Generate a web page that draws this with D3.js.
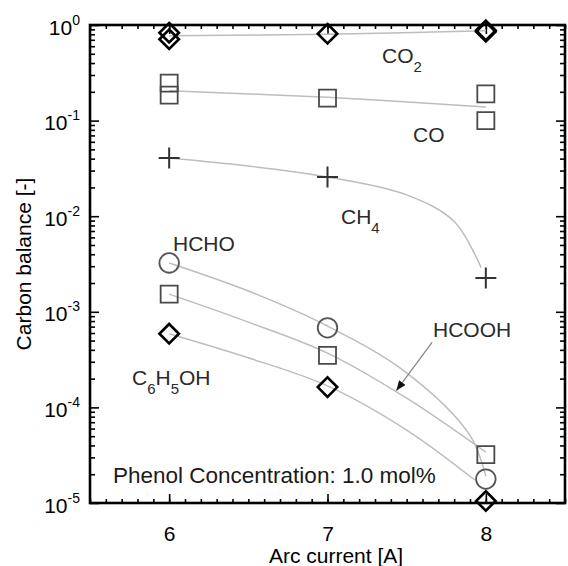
<!DOCTYPE html>
<html>
<head>
<meta charset="utf-8">
<script src="https://cdn.jsdelivr.net/npm/d3@7"></script>
<style>
body { margin: 0; background: #fff; }
text { font-family: "Liberation Sans", Arial, sans-serif; }
</style>
</head>
<body>
<script>
// arc current [A] and carbon balance [-]
var co2Current = [6, 6, 7, 8, 8];
var co2Value = [0.83, 0.71, 0.81, 0.85, 0.88];
var coCurrent = [6, 6, 7, 8, 8];
var coValue = [0.247, 0.185, 0.172, 0.19, 0.10];
var current = [6, 7, 8];
var ch4Value = [0.0406, 0.0257, 0.00226];
var hchoValue = [3.24e-3, 6.8e-4, 1.78e-5];
var hcoohValue = [1.53e-3, 3.5e-4, 3.2e-5];
var phenolValue = [5.9e-4, 1.63e-4, 1.05e-5];

// fitted curves (grey lines)
var fitCO2Current = [6, 7, 8];
var fitCO2 = [0.77, 0.80, 0.87];
var fitCOCurrent = [6, 7, 8];
var fitCO = [0.205, 0.175, 0.139];
var fitCH4Current = [6, 6.5, 7, 7.5, 7.8, 7.97];
var fitCH4 = [0.0406, 0.0335, 0.0257, 0.0167, 0.0088, 0.0029];
var fitHCHOCurrent = [6, 6.5, 7, 7.5, 7.9, 8];
var fitHCHO = [3.24e-3, 1.65e-3, 7.1e-4, 2.3e-4, 5.1e-5, 1.9e-5];
var fitHCOOHCurrent = [6, 6.5, 7, 7.5, 8];
var fitHCOOH = [1.53e-3, 7.8e-4, 3.7e-4, 1.25e-4, 3.4e-5];
var fitPhenolCurrent = [6, 6.5, 7, 7.5, 7.93];
var fitPhenol = [5.9e-4, 3.3e-4, 1.68e-4, 5.8e-5, 1.74e-5];

var xTicks = [6, 7, 8];
var yTicks = [1e-5, 1e-4, 1e-3, 1e-2, 1e-1, 1];
var yTickExp = ["-5", "-4", "-3", "-2", "-1", "0"];

var svg = d3.select("body")
    .append("svg")
    .attr("width", "568")
    .attr("height", "566")
    .style("display", "block");
var margin = {top: 25, right: 3, bottom: 63, left: 90};
var width = +svg.attr("width") - margin.left - margin.right;
var height = +svg.attr("height") - margin.top - margin.bottom;
var g = svg.append("g").attr("transform", "translate(" + margin.left + "," + margin.top + ")");

var x = d3.scaleLinear().domain([5.5, 8.5]).range([0, width]);
var y = d3.scaleLog().domain([1e-5, 1]).range([height, 0]);

var minorX = d3.range(55, 86).map(function(d) { return d / 10; });
var minorY = y.ticks().filter(function(d) { return yTicks.indexOf(d) < 0; });

function noDomain(sel) { sel.select(".domain").remove(); }

// minor ticks, all pointing inward
g.append("g").attr("transform", "translate(0," + height + ")")
    .call(d3.axisBottom(x).tickValues(minorX).tickSize(-4).tickFormat("")).call(noDomain);
g.append("g")
    .call(d3.axisTop(x).tickValues(minorX).tickSize(-4).tickFormat("")).call(noDomain);
g.append("g")
    .call(d3.axisLeft(y).tickValues(minorY).tickSize(-5).tickFormat("")).call(noDomain);
g.append("g").attr("transform", "translate(" + width + ",0)")
    .call(d3.axisRight(y).tickValues(minorY).tickSize(-5).tickFormat("")).call(noDomain);

// major ticks
var xAxis = g.append("g").attr("transform", "translate(0," + height + ")")
    .call(d3.axisBottom(x).tickValues(xTicks).tickSize(-9).tickPadding(0).tickFormat(d3.format("d")))
    .call(noDomain);
xAxis.selectAll("text")
    .attr("y", 38)
    .attr("dy", 0)
    .style("font-size", "21px")
    .attr("fill", "#000");
g.append("g")
    .call(d3.axisTop(x).tickValues(xTicks).tickSize(-9).tickFormat("")).call(noDomain);

var yAxis = g.append("g")
    .call(d3.axisLeft(y).tickValues(yTicks).tickSize(-9).tickFormat(""))
    .call(noDomain);
g.append("g").attr("transform", "translate(" + width + ",0)")
    .call(d3.axisRight(y).tickValues(yTicks).tickSize(-9).tickFormat("")).call(noDomain);

g.selectAll("line").attr("stroke", "#000").attr("stroke-width", 1.6);

var yLab = yAxis.selectAll(".tick").append("text")
    .attr("x", -10)
    .attr("y", 9)
    .attr("text-anchor", "end")
    .attr("fill", "#000")
    .style("font-size", "21px")
    .text("10");
yLab.append("tspan")
    .attr("dy", -10)
    .style("font-size", "14px")
    .text(function(d) { return yTickExp[yTicks.indexOf(d)]; });

// frame
g.append("rect")
    .attr("width", width)
    .attr("height", height)
    .attr("fill", "none")
    .attr("stroke", "#000")
    .attr("stroke-width", 2.6);

// fitted lines
var line = d3.line()
    .x(function(d) { return x(d[0]); })
    .y(function(d) { return y(d[1]); })
    .curve(d3.curveCatmullRom.alpha(0.5));
var fits = [
    [fitCO2Current, fitCO2],
    [fitCOCurrent, fitCO],
    [fitCH4Current, fitCH4],
    [fitHCHOCurrent, fitHCHO],
    [fitHCOOHCurrent, fitHCOOH],
    [fitPhenolCurrent, fitPhenol]
];
g.selectAll(".fit")
    .data(fits)
    .enter()
    .append("path")
    .attr("class", "fit")
    .attr("d", function(f) { return line(d3.zip(f[0], f[1])); })
    .attr("fill", "none")
    .attr("stroke", "#bdbdbd")
    .attr("stroke-width", 1.5);

// markers
function drawMarkers(xs, vs, type, size, color, sw) {
    g.append("g").selectAll("path")
        .data(d3.zip(xs, vs))
        .enter()
        .append("path")
        .attr("transform", function(d) { return "translate(" + x(d[0]) + "," + y(d[1]) + ")"; })
        .attr("d", d3.symbol().type(type).size(size))
        .attr("fill", "none")
        .attr("stroke", color)
        .attr("stroke-width", sw);
}
var diamond = {draw: function(ctx, size) {
    var r = Math.sqrt(size) / 2;
    ctx.moveTo(0, -r); ctx.lineTo(r, 0); ctx.lineTo(0, r); ctx.lineTo(-r, 0); ctx.closePath();
}};
var plus = {draw: function(ctx, size) {
    var r = Math.sqrt(size) / 2;
    ctx.moveTo(-r, 0); ctx.lineTo(r, 0); ctx.moveTo(0, -r); ctx.lineTo(0, r);
}};

drawMarkers(coCurrent, coValue, d3.symbolSquare, 290, "#4a4a4a", 1.8);
drawMarkers(current, hcoohValue, d3.symbolSquare, 290, "#4a4a4a", 1.8);
drawMarkers(current, hchoValue, d3.symbolCircle, 300, "#555", 1.8);
drawMarkers(current, ch4Value, plus, 440, "#333", 2);
drawMarkers(co2Current, co2Value, diamond, 380, "#000", 2.6);
drawMarkers(current, phenolValue, diamond, 380, "#000", 2.6);

// series labels
var labels = [
    {x: 382, y: 63, main: "CO", sub: "2", tail: ""},
    {x: 413, y: 142, main: "CO", sub: "", tail: ""},
    {x: 341, y: 224, main: "CH", sub: "4", tail: ""},
    {x: 173, y: 251, main: "HCHO", sub: "", tail: ""},
    {x: 433, y: 337, main: "HCOOH", sub: "", tail: ""},
    {x: 132, y: 385, main: "C", sub: "6", tail: "H", sub2: "5", tail2: "OH"}
];
labels.forEach(function(l) {
    var t = svg.append("text")
        .attr("x", l.x)
        .attr("y", l.y)
        .attr("fill", "#2a2a2a")
        .style("font-size", "21px")
        .text(l.main);
    if (l.sub) t.append("tspan").attr("dy", 9).style("font-size", "15px").text(l.sub);
    if (l.tail) t.append("tspan").attr("dy", -9).text(l.tail);
    if (l.sub2) t.append("tspan").attr("dy", 9).style("font-size", "15px").text(l.sub2);
    if (l.tail2) t.append("tspan").attr("dy", -9).text(l.tail2);
});

// arrow to the HCOOH curve
svg.append("defs").append("marker")
    .attr("id", "head")
    .attr("viewBox", "0 0 10 10")
    .attr("refX", 10)
    .attr("refY", 5)
    .attr("markerWidth", 10)
    .attr("markerHeight", 10)
    .attr("markerUnits", "userSpaceOnUse")
    .attr("orient", "auto")
    .append("path")
    .attr("d", "M0,1L10,5L0,9Z")
    .attr("fill", "#111");
g.append("line")
    .attr("x1", x(7.66)).attr("y1", y(4.8e-4))
    .attr("x2", x(7.435)).attr("y2", y(1.5e-4))
    .attr("stroke", "#888")
    .attr("stroke-width", 1.3)
    .attr("marker-end", "url(#head)");

svg.append("text")
    .attr("x", 113)
    .attr("y", 483)
    .attr("fill", "#1a1a1a")
    .style("font-size", "22.5px")
    .text("Phenol Concentration: 1.0 mol%");

// axis titles
svg.append("text")
    .attr("x", 336)
    .attr("y", 563)
    .attr("text-anchor", "middle")
    .style("font-size", "21px")
    .text("Arc current [A]");
svg.append("text")
    .attr("transform", "translate(31," + (margin.top + height / 2) + ") rotate(-90)")
    .attr("text-anchor", "middle")
    .style("font-size", "21px")
    .text("Carbon balance [-]");
</script>
</body>
</html>
